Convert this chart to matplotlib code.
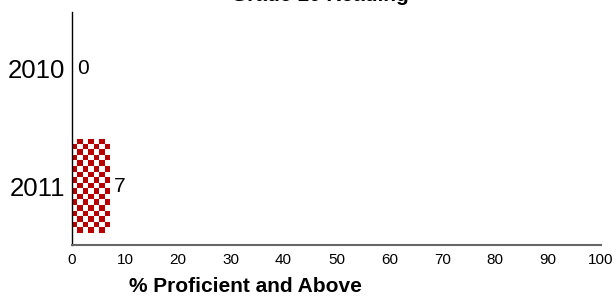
import numpy as np
import matplotlib
matplotlib.use("Agg")
import matplotlib.pyplot as plt

categories = ["2010", "2011"]
values = [0, 7]
xticks = [0, 10, 20, 30, 40, 50, 60, 70, 80, 90, 100]
title = "Grade 10 Reading"
xlabel = "% Proficient and Above"

plt.rcParams['font.family'] = ['Liberation Sans', 'DejaVu Sans']

W, H = 616, 302
fig = plt.figure(figsize=(W / 100, H / 100), dpi=100)
ax = fig.add_axes([72 / W, 1 - 245 / H, (601 - 72) / W, (245 - 12) / H])

ypos = np.arange(len(categories))
bars = ax.barh(ypos, values, height=0.8, color="white", edgecolor="none")

red = "#b80000"
for b in bars:
    x0, y0 = b.get_x(), b.get_y()
    w, h = b.get_width(), b.get_height()
    if w <= 0:
        continue
    nx = 7
    ny = 17
    grid = (np.add.outer(np.arange(ny), np.arange(nx)) % 2).astype(float)
    cmap = matplotlib.colors.ListedColormap(["white", red])
    im = ax.imshow(grid, cmap=cmap, extent=(x0, x0 + w, y0 + h, y0),
                   interpolation="nearest", aspect="auto", zorder=2)
    im.set_clip_path(b)

for y, v in zip(ypos, values):
    ax.text(v + 1.0, y, str(v), va="center", ha="left", fontsize=15)

ax.set_xlim(0, 100)
ax.set_ylim(1.5, -0.475)
ax.set_yticks(ypos)
ax.set_yticklabels(categories, fontsize=18.5)
ax.set_xticks(xticks)
ax.set_xticklabels([str(t) for t in xticks], fontsize=11)
ax.tick_params(axis="both", length=0)
ax.tick_params(axis="x", pad=6)
ax.tick_params(axis="y", pad=5)
for s in ["top", "right"]:
    ax.spines[s].set_visible(False)
ax.spines["left"].set_color("black")
ax.spines["left"].set_linewidth(1.0)
ax.spines["bottom"].set_color("#666666")
ax.spines["bottom"].set_linewidth(1.5)
ax.set_xlabel(xlabel, fontsize=15, fontweight="bold")
ax.xaxis.set_label_coords((245 - 72) / (601 - 72), -(292 - 245) / (245 - 12))
ax.xaxis.label.set_va("baseline")

fig.text(320 / W, 1 - 1 / H, title, ha="center", va="baseline",
         fontsize=15, fontweight="bold")

fig.savefig("out.png", dpi=100)
